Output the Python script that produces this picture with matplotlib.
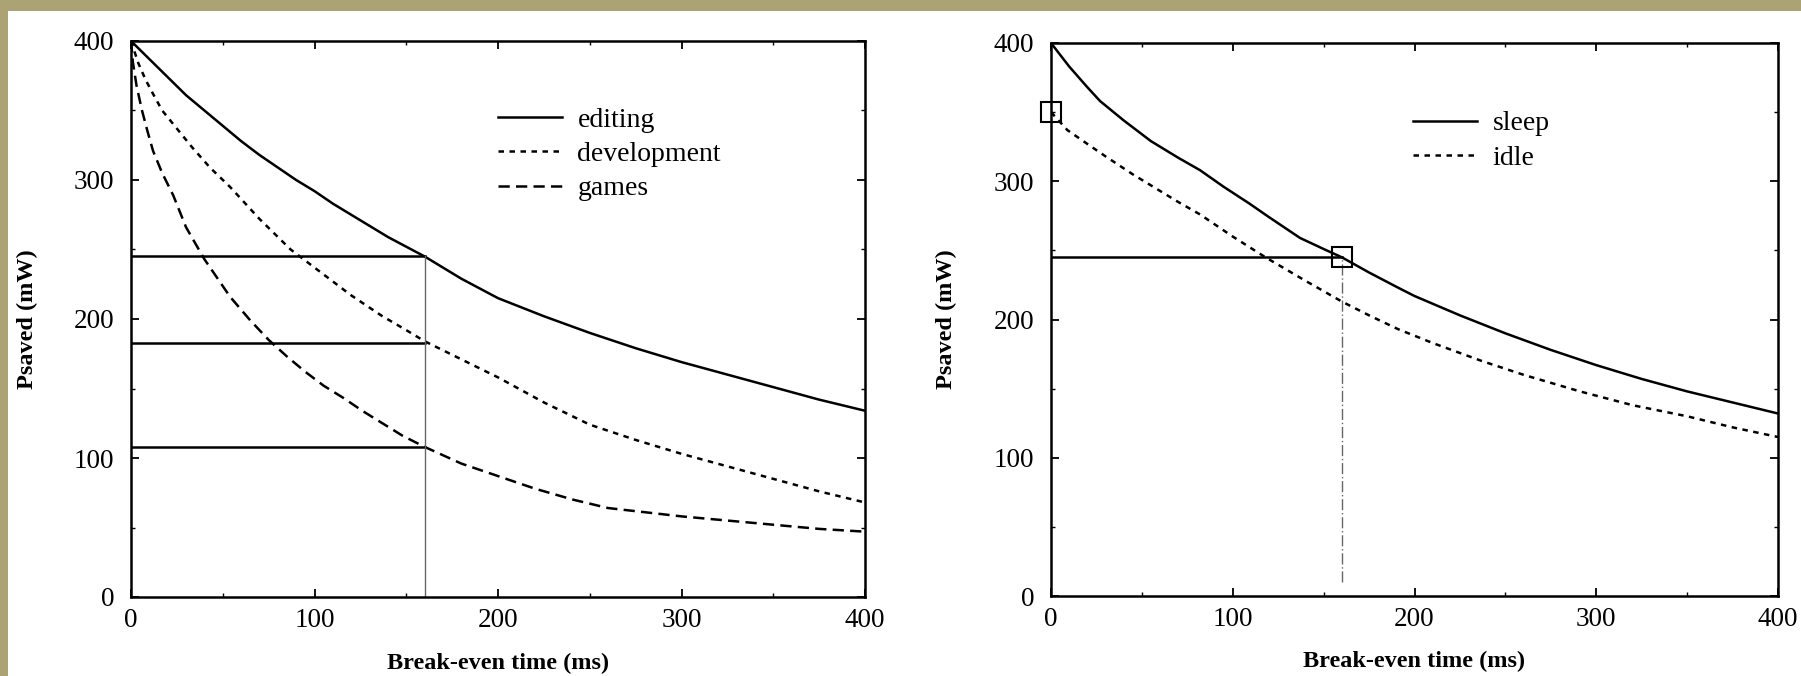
import matplotlib
matplotlib.use("Agg")
import matplotlib.pyplot as plt
from matplotlib.patches import Rectangle
from matplotlib.ticker import MultipleLocator

plt.rcParams['font.family'] = ['Liberation Serif', 'DejaVu Serif']

# ---- Left panel data ----
editing_x = [0, 10, 20, 30, 40, 50, 60, 70, 80, 90, 100, 110, 120, 130, 140, 150, 160,
             170, 180, 190, 200, 225, 250, 275, 300, 325, 350, 375, 400]
editing_y = [400, 387, 374, 361, 350, 339, 328, 318, 309, 300, 292, 283, 275, 267, 259, 252, 245,
             237, 229, 222, 215, 202, 190, 179, 169, 160, 151, 142, 134]

development_x = [0, 2, 4, 8, 12, 17, 25, 33, 43, 54, 70, 87, 100, 110, 120, 137, 150, 160,
                 180, 200, 225, 250, 275, 300, 325, 350, 375, 400]
development_y = [400, 392, 384, 372, 362, 350, 337, 324, 309, 295, 272, 250, 237, 227, 217, 202, 192, 184,
                 171, 158, 140, 124, 113, 103, 94, 85, 76, 68]

games_x = [0, 1, 3, 6, 9, 12, 17, 23, 30, 40, 54, 65, 75, 85, 95, 105, 116, 126, 137, 148, 160,
           180, 200, 220, 241, 260, 280, 300, 325, 350, 375, 400]
games_y = [400, 385, 368, 350, 335, 321, 305, 289, 266, 243, 216, 199, 185, 173, 162, 152, 143, 134, 125, 116, 108,
           96, 87, 78, 70, 64, 61, 58, 55, 52, 49, 47]

left_labels = ["editing", "development", "games"]
left_break_even = 160
left_levels = [245, 183, 108]

# ---- Right panel data ----
sleep_x = [0, 10, 20, 27, 40, 55, 70, 82, 95, 109, 120, 137, 150, 160, 175, 191, 200, 225, 250,
           275, 300, 325, 350, 375, 400]
sleep_y = [400, 383, 368, 358, 344, 329, 317, 308, 296, 284, 274, 259, 251, 245, 234, 223, 217, 203, 190,
           178, 167, 157, 148, 140, 132]

idle_x = [0, 9, 20, 30, 45, 60, 70, 82, 100, 118, 140, 160, 175, 191, 210, 237, 260, 291, 320, 350, 375, 400]
idle_y = [350, 337, 327, 318, 305, 293, 285, 276, 260, 245, 228, 213, 203, 193, 183, 170, 160, 148, 138, 130, 122, 115]

right_labels = ["sleep", "idle"]
right_break_even = 160
right_level = 245
marker_x = [0, 160]
marker_y = [350, 245]

x_ticks = [0, 100, 200, 300, 400]
y_ticks = [0, 100, 200, 300, 400]
x_label = "Break-even time (ms)"
y_label = "Psaved (mW)"

W, H = 1801, 676
fig = plt.figure(figsize=(W / 100, H / 100), dpi=100)
fig.patch.set_facecolor('#ACA375')
fig.patches.append(Rectangle((8 / W, 0), 1, 1 - 11 / H, transform=fig.transFigure,
                             facecolor='white', edgecolor='none', zorder=-10))

def fx(px):
    return px / W

def fy(py):
    return 1 - py / H

axL = fig.add_axes([fx(131), fy(597), fx(865) - fx(131), fy(41) - fy(597)])
axR = fig.add_axes([fx(1051), fy(596), fx(1778) - fx(1051), fy(43) - fy(596)])

TICK_FS = 19.5
LAB_FS = 17.5
LEG_FS = 20

for ax in (axL, axR):
    ax.set_xlim(0, 400)
    ax.set_ylim(0, 400)
    ax.set_xticks(x_ticks)
    ax.set_yticks(y_ticks)
    ax.xaxis.set_minor_locator(MultipleLocator(50))
    ax.yaxis.set_minor_locator(MultipleLocator(50))
    ax.tick_params(which='major', direction='in', length=6, width=1.3,
                   top=True, right=True, labelsize=TICK_FS, pad=8)
    ax.tick_params(axis='y', which='major', pad=12)
    ax.tick_params(which='minor', direction='in', length=3, width=1.0,
                   top=True, right=True)
    for sp in ax.spines.values():
        sp.set_linewidth(1.8)
    ax.set_xlabel(x_label, fontsize=LAB_FS, fontweight='bold')
    ax.set_ylabel(y_label, fontsize=LAB_FS, fontweight='bold')
    ax.xaxis.set_label_coords(0.5, -0.1)

axL.yaxis.set_label_coords(-0.127, 0.5)
axR.yaxis.set_label_coords(-0.129, 0.5)

LW = 1.8
# Left panel
axL.plot(editing_x, editing_y, color='black', lw=LW, ls='-', label=left_labels[0])
axL.plot(development_x, development_y, color='black', lw=LW, ls=(0, (2.2, 2.2)), label=left_labels[1])
axL.plot(games_x, games_y, color='black', lw=LW, ls=(0, (4.5, 2.5)), label=left_labels[2])
for lvl in left_levels:
    axL.plot([0, left_break_even], [lvl, lvl], color='black', lw=1.8)
axL.plot([left_break_even, left_break_even], [0, left_levels[0]], color='#666666', lw=1.0)

axL.legend(loc='upper left', bbox_to_anchor=(0.5, 0.881), frameon=False,
           fontsize=LEG_FS, handlelength=2.3, handletextpad=0.56,
           labelspacing=0.32, borderpad=0, borderaxespad=0)

# Right panel
axR.plot(sleep_x, sleep_y, color='black', lw=LW, ls='-', label=right_labels[0])
axR.plot(idle_x, idle_y, color='black', lw=LW, ls=(0, (2.2, 2.2)), label=right_labels[1])
axR.plot([0, right_break_even], [right_level, right_level], color='black', lw=1.8)
axR.plot([right_break_even, right_break_even], [10, right_level], color='#666666', lw=1.0,
         ls=(0, (8, 2, 1, 2)))
axR.plot(marker_x, marker_y, ls='none', marker='s', markersize=15, markerfacecolor='none',
         markeredgecolor='black', markeredgewidth=1.5, clip_on=False, zorder=5)

axR.legend(loc='upper left', bbox_to_anchor=(0.498, 0.877), frameon=False,
           fontsize=LEG_FS, handlelength=2.3, handletextpad=0.56,
           labelspacing=0.32, borderpad=0, borderaxespad=0)

fig.savefig("out.png", dpi=100, facecolor=fig.get_facecolor())
